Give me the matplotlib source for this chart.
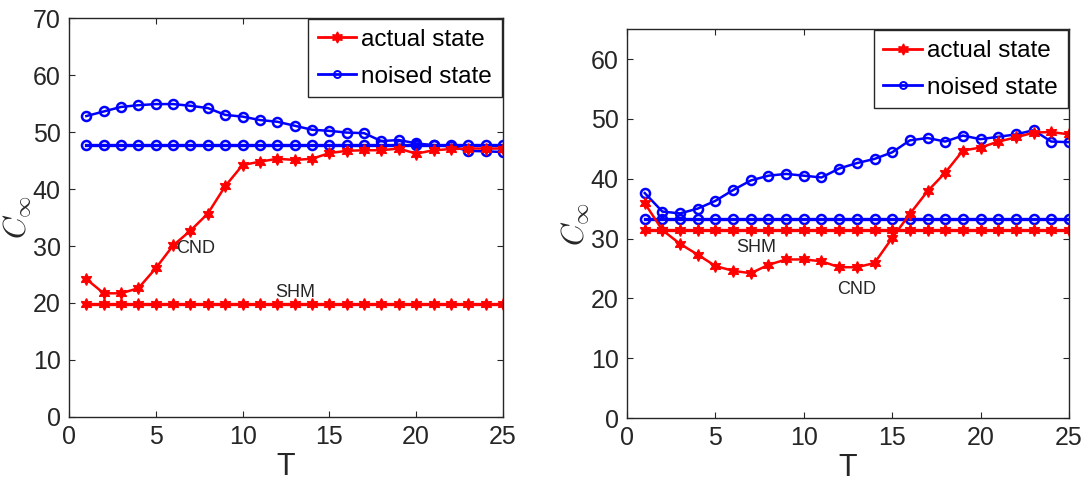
import numpy as np
import matplotlib
matplotlib.use("Agg")
import matplotlib.pyplot as plt

plt.rcParams['font.family'] = ['Liberation Sans Narrow', 'Liberation Sans', 'DejaVu Sans']
plt.rcParams['mathtext.fontset'] = 'cm'

T = np.arange(1, 26)

# left panel
left_actual_cnd = [24.2, 21.7, 21.7, 22.6, 26.1, 30.1, 32.7, 35.7, 40.5, 44.2,
                   44.8, 45.3, 45.1, 45.3, 46.3, 46.7, 46.8, 46.8, 47.1, 46.2,
                   46.8, 47.0, 47.1, 47.1, 47.1]
left_actual_shm = [19.8] * 25
left_noised_cnd = [52.8, 53.6, 54.4, 54.7, 54.9, 54.9, 54.6, 54.2, 53.0, 52.7,
                   52.1, 51.8, 51.1, 50.4, 50.2, 49.9, 49.8, 48.4, 48.6, 48.0,
                   47.7, 47.5, 46.7, 46.6, 46.5]
left_noised_shm = [47.8] * 25

# right panel
right_actual_cnd = [35.9, 31.4, 29.1, 27.3, 25.4, 24.6, 24.2, 25.6, 26.5, 26.5,
                    26.2, 25.2, 25.2, 25.9, 30.1, 34.1, 37.9, 41.0, 44.7, 45.2,
                    46.2, 46.9, 47.7, 47.8, 47.4]
right_actual_shm = [31.4] * 25
right_noised_cnd = [37.6, 34.5, 34.2, 35.0, 36.3, 38.1, 39.7, 40.5, 40.8, 40.5,
                    40.2, 41.7, 42.6, 43.3, 44.4, 46.4, 46.8, 46.2, 47.2, 46.6,
                    47.0, 47.4, 48.1, 46.2, 46.1]
right_noised_shm = [33.2] * 25

RED = '#ff0000'
BLUE = '#0000ff'
STAR = (6, 1, 0)
INK = '#262626'


def draw_panel(ax, actual_cnd, actual_shm, noised_cnd, noised_shm, ymax, yticks,
               cnd_pos, shm_pos):
    ax.plot(T, noised_shm, color=BLUE, lw=2.4, marker='o', ms=6.5,
            mfc='none', mec=BLUE, mew=1.8)
    ax.plot(T, noised_cnd, color=BLUE, lw=1.8, marker='o', ms=6.5,
            mfc='none', mec=BLUE, mew=1.8)
    ax.plot(T, actual_shm, color=RED, lw=2.4, marker=STAR, ms=8.5,
            mfc=RED, mec=RED)
    ax.plot(T, actual_cnd, color=RED, lw=1.8, marker=STAR, ms=8.5,
            mfc=RED, mec=RED)

    ax.text(cnd_pos[0], cnd_pos[1], 'CND', fontsize=13, color=INK,
            ha='left', va='center')
    ax.text(shm_pos[0], shm_pos[1], 'SHM', fontsize=13, color=INK,
            ha='left', va='center')

    ax.set_xlim(0, 25)
    ax.set_ylim(0, ymax)
    ax.set_xticks([0, 5, 10, 15, 20, 25])
    ax.set_yticks(yticks)
    ax.tick_params(direction='in', top=True, right=True, length=4,
                   labelsize=18, colors=INK, pad=6)
    for s in ax.spines.values():
        s.set_color(INK)
        s.set_linewidth(1.0)
    ax.set_xlabel('T', fontsize=22, color=INK, labelpad=2)
    ax.set_ylabel(r'$C_\infty$', fontsize=22, color=INK, labelpad=0)

    h1, = ax.plot([], [], color=RED, lw=2, marker=STAR, ms=8, mfc=RED, mec=RED)
    h2, = ax.plot([], [], color=BLUE, lw=2, marker='o', ms=5, mfc='none',
                  mec=BLUE, mew=1.4)
    leg = ax.legend([h1, h2], ['actual state', 'noised state'], loc='upper right',
                    fontsize=17.5, frameon=True, fancybox=False, framealpha=1,
                    edgecolor=INK, borderaxespad=0.05, borderpad=0.4,
                    labelspacing=0.6, handlelength=1.6, handletextpad=0.2)
    leg.get_frame().set_linewidth(1.0)


fig = plt.figure(figsize=(10.83, 4.88), dpi=100)
ax1 = fig.add_axes([0.0637, 0.1455, 0.4007, 0.8176])
ax2 = fig.add_axes([0.579, 0.1434, 0.408, 0.797])

draw_panel(ax1, left_actual_cnd, left_actual_shm, left_noised_cnd, left_noised_shm,
           70, np.arange(0, 71, 10), (6.2, 29.6), (11.9, 21.8))
draw_panel(ax2, right_actual_cnd, right_actual_shm, right_noised_cnd, right_noised_shm,
           65, np.arange(0, 61, 10), (11.9, 21.5), (6.2, 28.5))

fig.savefig('out.png', dpi=100)
